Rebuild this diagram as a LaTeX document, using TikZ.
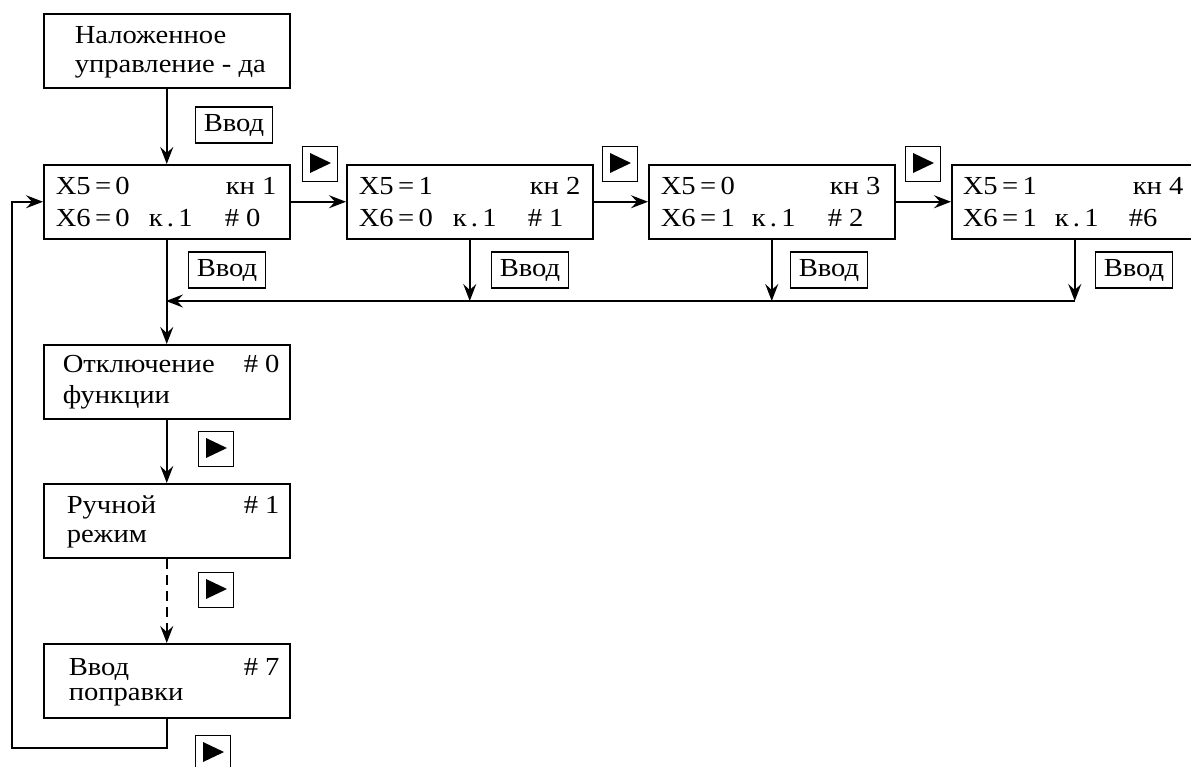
\documentclass[tikz,border=0pt]{standalone}
\usepackage{fontspec}
\setmainfont[FakeStretch=1.1]{Liberation Serif}
\usetikzlibrary{arrows.meta}
\begin{document}
\begin{tikzpicture}[x=1pt,y=-1pt,line width=1.5pt,
  box/.style={draw,minimum width=246pt,minimum height=74pt,inner sep=0pt,anchor=north west},
  txt/.style={anchor=base west,inner sep=0pt,font=\fontsize{26}{26}\selectfont},
  key/.style={draw,minimum width=77pt,minimum height=36pt,inner sep=0pt,font=\fontsize{26}{26}\selectfont},
  play/.style={draw,minimum width=35pt,minimum height=35pt,inner sep=0pt,
    path picture={\fill ([xshift=-10pt,yshift=11pt]path picture bounding box.center) -- ++(0,20) -- ++(21,-10) -- cycle;}},
  arr/.style={-{Stealth[length=17pt,width=13pt,inset=6pt]}}
]
\useasboundingbox (0,0) rectangle (1191,766);

% top box
\node[box] (top) at (43,13) {};
\node[txt] (t1) at (74,43) {Наложенное};
\node[txt] (t2) at (74,72) {управление - да};

% row boxes
\node[box] (b1) at (43,164) {};
\node[box] (b2) at (346,164) {};
\node[box] (b3) at (648,164) {};
\node[box] (b4) at (951,164) {};

\node[txt] (b1a) at (55,194) {X5\,=\,0};
\node[txt] (b1b) at (225,194) {кн 1};
\node[txt] (b1c) at (55,226) {X6\,=\,0};
\node[txt] (b1d) at (148,226) {к\,.\,1};
\node[txt] (b1e) at (224,226) {\# 0};

\node[txt] (b2a) at (358,194) {X5\,=\,1};
\node[txt] (b2b) at (529,194) {кн 2};
\node[txt] (b2c) at (358,226) {X6\,=\,0};
\node[txt] (b2d) at (452,226) {к\,.\,1};
\node[txt] (b2e) at (527,226) {\# 1};

\node[txt] (b3a) at (660,194) {X5\,=\,0};
\node[txt] (b3b) at (829,194) {кн 3};
\node[txt] (b3c) at (660,226) {X6\,=\,1};
\node[txt] (b3d) at (751,226) {к\,.\,1};
\node[txt] (b3e) at (827,226) {\# 2};

\node[txt] (b4a) at (962,194) {X5\,=\,1};
\node[txt] (b4b) at (1132,194) {кн 4};
\node[txt] (b4c) at (962,226) {X6\,=\,1};
\node[txt] (b4d) at (1054,226) {к\,.\,1};
\node[txt] (b4e) at (1128,226) {\#6};

% column boxes
\node[box] (c1) at (43,344) {};
\node[txt] (c1a) at (62,372) {Отключение};
\node[txt] (c1b) at (62,403) {функции};
\node[txt] (c1c) at (243,372) {\# 0};

\node[box] (c2) at (43,483) {};
\node[txt] (c2a) at (66,513) {Ручной};
\node[txt] (c2b) at (66,542) {режим};
\node[txt] (c2c) at (243,513) {\# 1};

\node[box] (c3) at (43,643) {};
\node[txt] (c3a) at (68,675) {Ввод};
\node[txt] (c3b) at (68,700) {поправки};
\node[txt] (c3c) at (243,675) {\# 7};

% key labels
\node[key] (k0) at (234,125) {Ввод};
\node[key] (k1) at (227,270) {Ввод};
\node[key] (k2) at (530,270) {Ввод};
\node[key] (k3) at (829,270) {Ввод};
\node[key] (k4) at (1134,270) {Ввод};

\node[play] (p1) at (320,164) {};
\node[play] (p2) at (620,164) {};
\node[play] (p3) at (923,164) {};
\node[play] (p4) at (216,449) {};
\node[play] (p5) at (216,590) {};
\node[play] (p6) at (213,753) {};

% connectors
\coordinate (bus) at (166,301);
\coordinate (loopL) at (12,748);
\draw[arr] (top.south) -- (b1.north);
\draw[arr] (b1.east) -- (b2.west);
\draw[arr] (b2.east) -- (b3.west);
\draw[arr] (b3.east) -- (b4.west);
\draw[arr] (b2.south) -- (b2.south |- bus);
\draw[arr] (b3.south) -- (b3.south |- bus);
\draw[arr] (b4.south) -- (b4.south |- bus);
\draw[arr] (b4.south |- bus) -- (bus);
\draw[arr] (b1.south) -- (c1.north);
\draw[arr] (c1.south) -- (c2.north);
\draw[arr,dash pattern=on 10pt off 6pt] (c2.south) -- (c3.north);
\draw[arr] (c3.south) |- (loopL) |- (b1.west);
\end{tikzpicture}
\end{document}
